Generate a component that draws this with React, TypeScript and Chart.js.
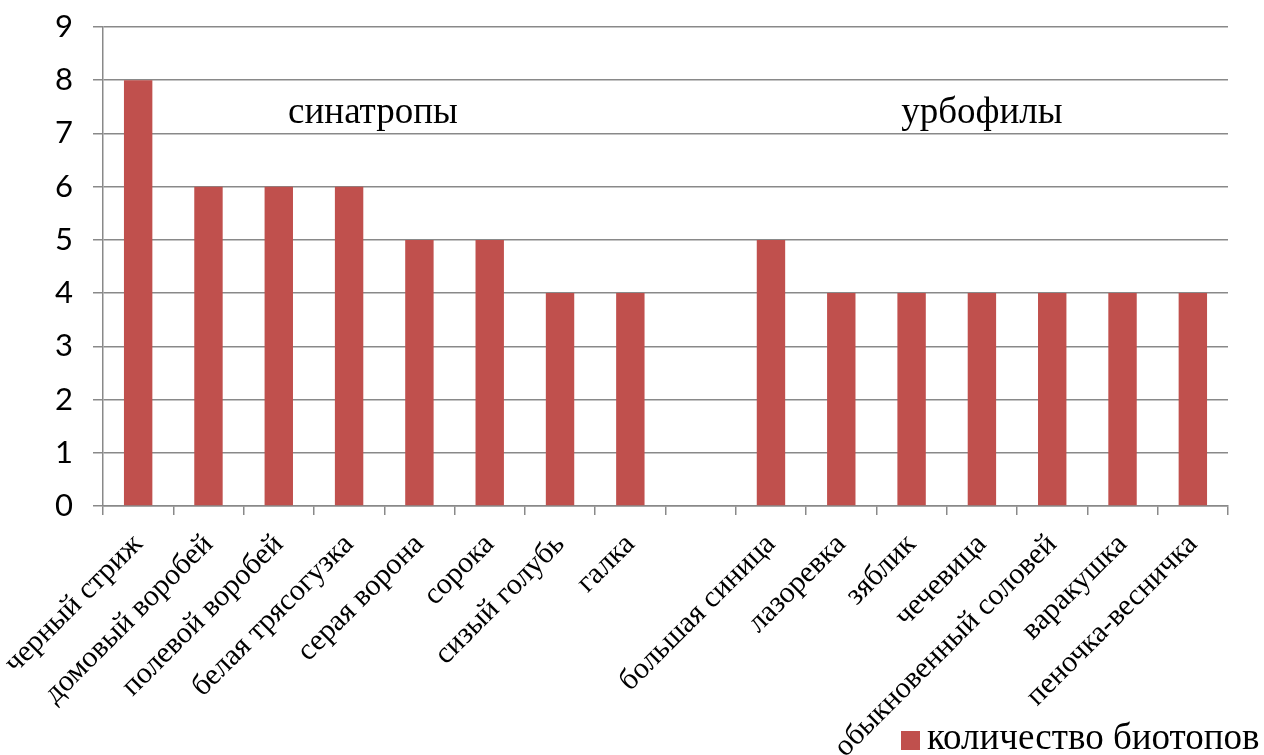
import React, { useEffect, useRef } from "react";
import { Chart, registerables } from "chart.js";

Chart.register(...registerables);

const categories: string[] = [
  "черный стриж",
  "домовый воробей",
  "полевой воробей",
  "белая трясогузка",
  "серая ворона",
  "сорока",
  "сизый голубь",
  "галка",
  "",
  "большая синица",
  "лазоревка",
  "зяблик",
  "чечевица",
  "обыкновенный соловей",
  "варакушка",
  "пеночка-весничка",
];

const biotopes: (number | null)[] = [8, 6, 6, 6, 5, 5, 4, 4, null, 5, 4, 4, 4, 4, 4, 4];

const seriesLabel = "количество биотопов";
const groupLabels: string[] = ["синатропы", "урбофилы"];
const groupPositions: number[] = [3.34, 12];
const groupValue = 7.2;

const BAR_COLOR = "#C0504D";
const GRID_COLOR = "#898989";
const SERIF = "'Liberation Serif', 'Times New Roman', serif";
const SANS = "Lato, 'Open Sans', 'Liberation Sans', sans-serif";

const annotationPlugin = {
  id: "groupAnnotations",
  afterDraw(chart: any) {
    const ctx = chart.ctx;
    const xs = chart.scales.x;
    const ys = chart.scales.y;
    ctx.save();
    ctx.fillStyle = "#000";
    ctx.font = `37px ${SERIF}`;
    ctx.textAlign = "center";
    ctx.textBaseline = "alphabetic";
    groupLabels.forEach((t, i) => {
      const p = groupPositions[i];
      const base = Math.floor(p);
      const frac = p - base;
      const x0 = xs.getPixelForValue(base);
      const x1 = xs.getPixelForValue(base + 1);
      const x = x0 + (x1 - x0) * frac;
      ctx.fillText(t, x, ys.getPixelForValue(groupValue));
    });
    // legend
    const ds = chart.data.datasets[0];
    ctx.fillStyle = ds.backgroundColor;
    ctx.fillRect(901, 731, 19, 19);
    ctx.fillStyle = "#000";
    ctx.textAlign = "left";
    ctx.font = `37px ${SERIF}`;
    ctx.fillText(ds.label, 927, 749);
    ctx.restore();
  },
};

export default function App() {
  const ref = useRef<HTMLCanvasElement | null>(null);
  useEffect(() => {
    if (!ref.current) return;
    const chart = new Chart(ref.current, {
      type: "bar",
      data: {
        labels: categories,
        datasets: [
          {
            label: seriesLabel,
            data: biotopes,
            backgroundColor: BAR_COLOR,
            borderWidth: 0,
            barPercentage: 0.404,
            categoryPercentage: 1,
          },
        ],
      },
      options: {
        responsive: false,
        animation: false,
        layout: { padding: { top: 27, right: 36, left: 0, bottom: 0 } },
        plugins: {
          legend: { display: false },
          tooltip: { enabled: false },
        },
        scales: {
          x: {
            offset: true,
            grid: {
              offset: true,
              drawOnChartArea: false,
              drawTicks: true,
              tickLength: 9,
              color: GRID_COLOR,
              lineWidth: 1.5,
            },
            border: { display: true, color: GRID_COLOR, width: 1.5 },
            ticks: {
              autoSkip: false,
              maxRotation: 45,
              minRotation: 45,
              color: "#000",
              padding: 12,
              font: { family: SERIF, size: 30 },
            },
            afterFit(scale: any) {
              scale.height = 249;
              scale.paddingLeft = 0;
              scale.paddingRight = 0;
            },
          },
          y: {
            min: 0,
            max: 9,
            ticks: {
              stepSize: 1,
              color: "#000",
              padding: 20,
              font: { family: SANS, size: 31 },
            },
            grid: {
              color: GRID_COLOR,
              lineWidth: 1.5,
              drawTicks: true,
              tickLength: 10,
            },
            border: { display: true, color: GRID_COLOR, width: 1.5 },
            afterFit(scale: any) {
              scale.width = 103;
              scale.paddingTop = 0;
              scale.paddingBottom = 0;
            },
          },
        },
      },
      plugins: [annotationPlugin],
    });
    return () => chart.destroy();
  }, []);
  return (
    <div style={{ position: "fixed", left: 0, top: 0, width: 1264, height: 755, background: "#fff" }}>
      <canvas ref={ref} width={1264} height={755} style={{ width: 1264, height: 755 }} />
    </div>
  );
}
